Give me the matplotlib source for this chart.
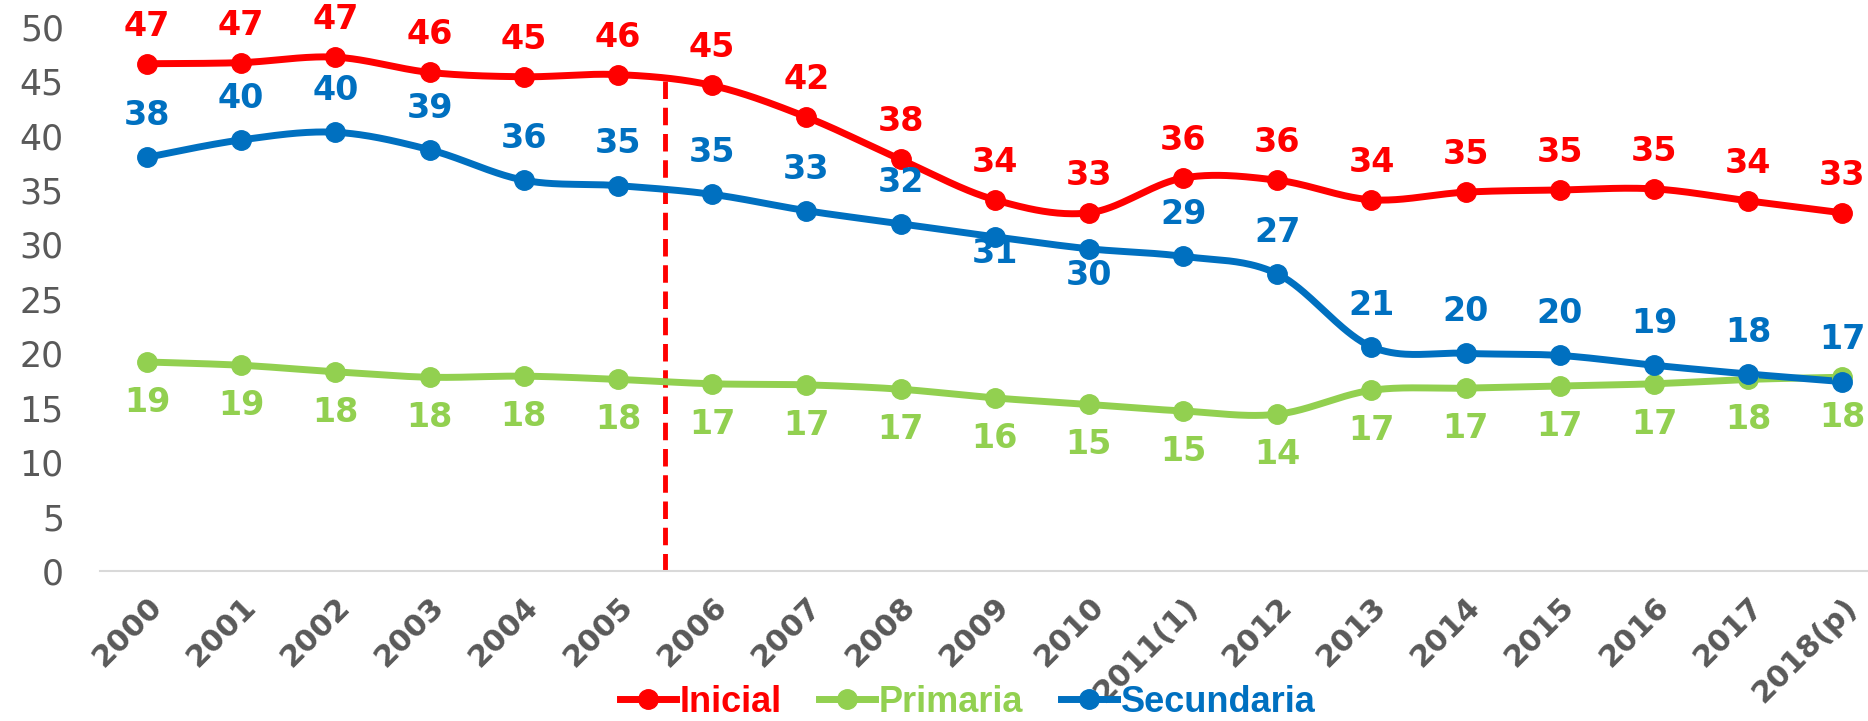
import matplotlib
matplotlib.use("Agg")
import matplotlib.pyplot as plt
import numpy as np
from matplotlib.transforms import ScaledTranslation

# Datos (tasa, %)
anios = ["2000", "2001", "2002", "2003", "2004", "2005", "2006", "2007", "2008",
         "2009", "2010", "2011(1)", "2012", "2013", "2014", "2015", "2016",
         "2017", "2018(p)"]
inicial = [46.6, 46.7, 47.2, 45.8, 45.4, 45.6, 44.6, 41.7, 37.8, 34.1, 32.9,
           36.1, 35.9, 34.1, 34.8, 35.0, 35.1, 34.0, 32.9]
primaria = [19.2, 18.9, 18.3, 17.8, 17.9, 17.6, 17.2, 17.1, 16.7, 15.9, 15.3,
            14.7, 14.4, 16.6, 16.8, 17.0, 17.2, 17.6, 17.8]
secundaria = [38.0, 39.6, 40.3, 38.7, 35.9, 35.4, 34.6, 33.1, 31.9, 30.7, 29.6,
              28.9, 27.3, 20.6, 20.0, 19.8, 18.9, 18.1, 17.4]

ROJO = "#FF0000"
VERDE = "#92D050"
AZUL = "#0070C0"
GRIS = "#595959"

plt.rcParams['font.family'] = 'DejaVu Sans'


def suave(y, n=40):
    # curva suavizada tipo Excel (Bezier con tangentes Catmull-Rom)
    y = np.asarray(y, float)
    x = np.arange(len(y), dtype=float)
    px = np.concatenate([[x[0]], x, [x[-1]]])
    py = np.concatenate([[y[0]], y, [y[-1]]])
    t = np.linspace(0, 1, n)
    cx, cy = [], []
    for i in range(len(y) - 1):
        x0, x1, x2, x3 = px[i:i + 4]
        y0, y1, y2, y3 = py[i:i + 4]
        c1x, c1y = x1 + (x2 - x0) / 6, y1 + (y2 - y0) / 6
        c2x, c2y = x2 - (x3 - x1) / 6, y2 - (y3 - y1) / 6
        bx = (1-t)**3*x1 + 3*(1-t)**2*t*c1x + 3*(1-t)*t**2*c2x + t**3*x2
        by = (1-t)**3*y1 + 3*(1-t)**2*t*c1y + 3*(1-t)*t**2*c2y + t**3*y2
        cx.append(bx)
        cy.append(by)
    return np.concatenate(cx), np.concatenate(cy)


fig = plt.figure(figsize=(18.68, 7.21), dpi=100)
ax = fig.add_axes([0.0535, 0.208, 0.958, 0.755])

x = np.arange(len(anios))
series = [("Inicial", inicial, ROJO, 27),
          ("Primaria", primaria, VERDE, -29),
          ("Secundaria", secundaria, AZUL, 30)]
# desplazamientos especiales de etiquetas (puntos)
ajuste_azul = {9: -12, 10: -19}

curva_ini = None
for nombre, vals, col, off in series:
    cx, cy = suave(vals)
    if nombre == "Inicial":
        curva_ini = (cx, cy)
    ax.plot(cx, cy, color=col, lw=5, solid_capstyle='round', zorder=3)
    ax.plot(x, vals, linestyle="none", marker="o", ms=14, color=col, zorder=4)
    ax.plot([], [], color=col, lw=5, marker="o", ms=14, label=nombre)
    for i, v in enumerate(vals):
        d = off
        if nombre == "Secundaria" and i in ajuste_azul:
            d = ajuste_azul[i]
        ax.annotate(f"{v:.0f}", (i, v), xytext=(0, d), textcoords="offset points",
                    ha="center", va="center", fontsize=24, fontweight="bold",
                    color=col, zorder=5, annotation_clip=False)

# linea vertical discontinua entre 2005 y 2006
xc = 5.5
ytop = np.interp(xc, curva_ini[0], curva_ini[1])
ax.plot([xc, xc], [0, ytop], color=ROJO, lw=3.5, linestyle=(0, (3.6, 1.8)), zorder=2)

ax.set_xlim(-0.5, 18.5)
ax.set_ylim(0, 50)
ax.set_yticks(range(0, 51, 5))
ax.set_xticks(x)
ax.set_xticklabels(anios, rotation=45, ha="right", va="top", rotation_mode="anchor",
                   fontsize=22, fontweight="bold", color=GRIS)
for lbl in ax.get_xticklabels():
    lbl.set_transform(lbl.get_transform() + ScaledTranslation(-1 / 100, 0, fig.dpi_scale_trans))
ax.tick_params(axis="x", length=0, pad=15)
ax.tick_params(axis="y", length=0, pad=26, labelsize=25, labelcolor=GRIS)
for s in ["top", "right", "left"]:
    ax.spines[s].set_visible(False)
ax.spines["bottom"].set_color("#D9D9D9")
ax.spines["bottom"].set_linewidth(1.5)

leg = ax.legend(loc="center", bbox_to_anchor=(0.518, 0.026), bbox_transform=fig.transFigure,
                ncol=3, frameon=False,
                prop={"family": "Liberation Sans", "weight": "bold", "size": 26},
                handlelength=1.55, handletextpad=0.1, columnspacing=1.05)
for txt, (_, _, col, _) in zip(leg.get_texts(), series):
    txt.set_color(col)

fig.savefig("out.png", dpi=100)
